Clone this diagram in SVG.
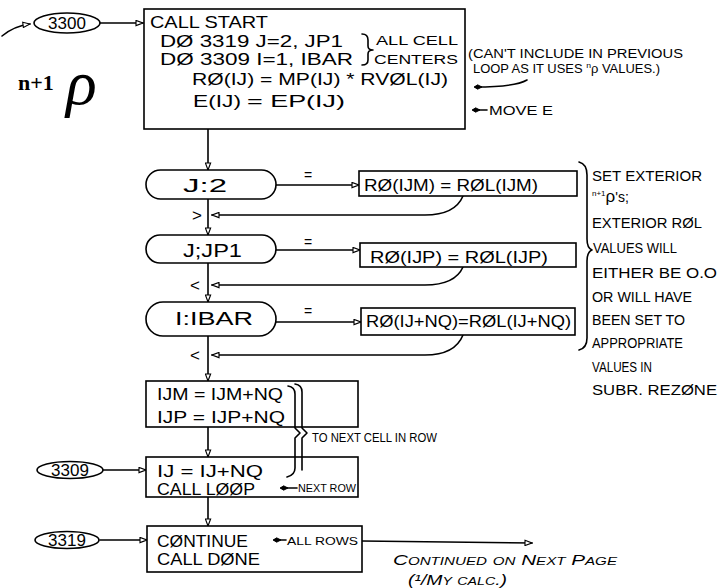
<svg xmlns="http://www.w3.org/2000/svg" width="721" height="588" viewBox="0 0 721 588">
<style>
  .ln { fill: none; stroke: #000; stroke-width: 1.6; stroke-linecap: round; stroke-linejoin: round; }
  .bx { fill: #fff; stroke: #000; stroke-width: 1.6; }
  .t { font-family: "Liberation Sans", Arial, sans-serif; font-size: 17px; fill: #000; }
  .a { font-family: "Liberation Sans", Arial, sans-serif; font-size: 16px; fill: #000; }
  .p { font-family: "Liberation Sans", Arial, sans-serif; font-size: 18px; fill: #000; }
  .s { font-family: "Liberation Sans", Arial, sans-serif; font-size: 12px; fill: #000; }
  .xs { font-family: "Liberation Sans", Arial, sans-serif; font-size: 10px; fill: #000; }
  .r { font-family: "Liberation Sans", Arial, sans-serif; font-size: 14px; fill: #000; }
  .c { text-anchor: middle; }
  .it { font-family: "Liberation Sans", Arial, sans-serif; font-style: italic; font-variant: small-caps; font-size: 15px; fill: #000; }
</style>
<defs>
  <marker id="ah" viewBox="0 0 10 8" refX="9" refY="4" markerWidth="9" markerHeight="7" markerUnits="userSpaceOnUse" orient="auto">
    <path d="M1,1 L9,4 L1,7 z" fill="#fff" stroke="#000" stroke-width="1.3"/>
  </marker>
  <marker id="dot" viewBox="0 0 10 8" refX="8" refY="4" markerWidth="9" markerHeight="7" markerUnits="userSpaceOnUse" orient="auto">
    <path d="M0,4 L5,1.5 L9,4 L5,6.5 z" fill="#000" stroke="#000" stroke-width="1"/>
  </marker>
</defs>

<g id="connectors">
  <path class="ln" d="M2,36 Q14,26 30,24" marker-end="url(#ah)"/>
  <path class="ln" d="M100,23 L143,23" marker-end="url(#ah)"/>
  <path class="ln" d="M208,129 L208,170" marker-end="url(#ah)"/>
  <path class="ln" d="M276,185 L359,185" marker-end="url(#ah)"/>
  <path class="ln" d="M463,196 Q455,215 425,215 L212,215" marker-end="url(#ah)"/>
  <path class="ln" d="M208,199 L208,235" marker-end="url(#ah)"/>
  <path class="ln" d="M276,250 L360,250" marker-end="url(#ah)"/>
  <path class="ln" d="M463,267 Q455,285 425,285 L212,285" marker-end="url(#ah)"/>
  <path class="ln" d="M208,263 L208,302" marker-end="url(#ah)"/>
  <path class="ln" d="M276,322 L361,322" marker-end="url(#ah)"/>
  <path class="ln" d="M463,335 Q455,355 425,355 L212,355" marker-end="url(#ah)"/>
  <path class="ln" d="M208,336 L208,381" marker-end="url(#ah)"/>
  <path class="ln" d="M208,427 L208,457" marker-end="url(#ah)"/>
  <path class="ln" d="M103,470 L146,470" marker-end="url(#ah)"/>
  <path class="ln" d="M208,497 L208,526" marker-end="url(#ah)"/>
  <path class="ln" d="M100,540 L147,540" marker-end="url(#ah)"/>
  <path class="ln" d="M362,541 L532,543" marker-end="url(#ah)"/>
  <text class="r" x="304" y="180">=</text>
  <text class="r" x="304" y="247">=</text>
  <text class="r" x="304" y="316">=</text>
  <text class="t" x="192" y="221">&gt;</text>
  <text class="t" x="190" y="291">&lt;</text>
  <text class="t" x="190" y="361">&lt;</text>
</g>

<g id="entry-3300">
  <ellipse class="bx" cx="67" cy="23" rx="33" ry="10"/>
  <text class="t c" x="67" y="29">3300</text>
</g>

<g id="rho-label">
  <text x="18" y="90" font-family="Liberation Serif, serif" font-size="22" font-weight="bold">n+1</text>
  <text x="66" y="104" font-family="Liberation Serif, serif" font-size="64" font-style="italic">ρ</text>
</g>

<g id="start-box">
  <rect class="bx" x="144" y="9" width="321" height="120"/>
  <text class="t" x="150" y="28" textLength="118" lengthAdjust="spacingAndGlyphs">CALL START</text>
  <text class="t" x="160" y="47" textLength="183" lengthAdjust="spacingAndGlyphs">DØ 3319 J=2, JP1</text>
  <text class="t" x="160" y="65" textLength="193" lengthAdjust="spacingAndGlyphs">DØ 3309 I=1, IBAR</text>
  <text class="t" x="192" y="85" textLength="256" lengthAdjust="spacingAndGlyphs">RØ(IJ) = MP(IJ) * RVØL(IJ)</text>
  <text class="t" x="193" y="107" textLength="48" lengthAdjust="spacingAndGlyphs">E(IJ)</text>
  <text class="t" x="247" y="107" textLength="98" lengthAdjust="spacingAndGlyphs">= EP(IJ)</text>
  <path class="ln" d="M362,34 Q368,34 368,40 L368,46 Q368,50 373,50 Q368,50 368,54 L368,60 Q368,65 362,65"/>
  <text class="s" x="376" y="45" textLength="82" lengthAdjust="spacingAndGlyphs">ALL CELL</text>
  <text class="s" x="374" y="64" textLength="84" lengthAdjust="spacingAndGlyphs">CENTERS</text>
</g>

<g id="note-previous">
  <text class="s" x="468" y="58" textLength="215" lengthAdjust="spacingAndGlyphs">(CAN'T INCLUDE IN PREVIOUS</text>
  <text class="s" x="473" y="73" textLength="187" lengthAdjust="spacingAndGlyphs">LOOP AS IT USES <tspan font-size="8" dy="-5">n</tspan><tspan dy="5">ρ VALUES.)</tspan></text>
  <path class="ln" d="M527,80 Q515,87 475,87" marker-end="url(#dot)"/>
  <path class="ln" d="M487,110 L473,110" marker-end="url(#dot)"/>
  <text class="s" x="489" y="115" textLength="64" lengthAdjust="spacingAndGlyphs">MOVE E</text>
</g>

<g id="dec-j2">
  <rect class="bx" x="146" y="170" width="130" height="29" rx="14.5"/>
  <text class="p" x="183" y="192" textLength="44" lengthAdjust="spacingAndGlyphs">J:2</text>
</g>
<g id="act-ijm">
  <rect class="bx" x="359" y="171" width="218" height="25"/>
  <text class="a" x="364" y="191" textLength="174" lengthAdjust="spacingAndGlyphs">RØ(IJM) = RØL(IJM)</text>
</g>

<g id="dec-jp1">
  <rect class="bx" x="146" y="235" width="130" height="28" rx="14"/>
  <text class="p" x="183" y="257" textLength="59" lengthAdjust="spacingAndGlyphs">J;JP1</text>
</g>
<g id="act-ijp">
  <rect class="bx" x="360" y="243" width="216" height="24"/>
  <text class="a" x="370" y="263" textLength="178" lengthAdjust="spacingAndGlyphs">RØ(IJP) = RØL(IJP)</text>
</g>

<g id="dec-ibar">
  <rect class="bx" x="146" y="302" width="130" height="34" rx="17"/>
  <text class="p" x="175" y="325" textLength="78" lengthAdjust="spacingAndGlyphs">I:IBAR</text>
</g>
<g id="act-ijnq">
  <rect class="bx" x="361" y="308" width="214" height="27"/>
  <text class="a" x="366" y="327" textLength="205" lengthAdjust="spacingAndGlyphs">RØ(IJ+NQ)=RØL(IJ+NQ)</text>
</g>

<g id="note-exterior">
  <path class="ln" d="M579,162 Q587,164 587,175 L587,239 Q587,248 592,250 Q587,252 587,261 L587,338 Q587,348 579,350"/>
  <text class="r" x="592" y="181" textLength="110" lengthAdjust="spacingAndGlyphs">SET EXTERIOR</text>
  <text class="r" x="592" y="202"><tspan font-size="8" dy="-6">n+1</tspan><tspan dy="6" font-size="17">ρ</tspan><tspan>'s;</tspan></text>
  <text class="r" x="592" y="228" textLength="110" lengthAdjust="spacingAndGlyphs">EXTERIOR RØL</text>
  <text class="r" x="593" y="253" textLength="84" lengthAdjust="spacingAndGlyphs">VALUES WILL</text>
  <text class="r" x="592" y="278" textLength="125" lengthAdjust="spacingAndGlyphs">EITHER BE O.O</text>
  <text class="r" x="592" y="302" textLength="100" lengthAdjust="spacingAndGlyphs">OR WILL HAVE</text>
  <text class="r" x="592" y="325" textLength="93" lengthAdjust="spacingAndGlyphs">BEEN SET TO</text>
  <text class="r" x="592" y="348" textLength="91" lengthAdjust="spacingAndGlyphs">APPROPRIATE</text>
  <text class="r" x="592" y="372" textLength="60" lengthAdjust="spacingAndGlyphs">VALUES IN</text>
  <text class="r" x="592" y="395" textLength="125" lengthAdjust="spacingAndGlyphs">SUBR. REZØNE</text>
</g>

<g id="box-incr">
  <rect class="bx" x="146" y="381" width="212" height="46"/>
  <text class="t" x="157" y="400" textLength="126" lengthAdjust="spacingAndGlyphs">IJM = IJM+NQ</text>
  <text class="t" x="157" y="423" textLength="128" lengthAdjust="spacingAndGlyphs">IJP = IJP+NQ</text>
</g>

<g id="box-loop">
  <rect class="bx" x="146" y="457" width="212" height="40"/>
  <text class="t" x="157" y="477" textLength="106" lengthAdjust="spacingAndGlyphs">IJ = IJ+NQ</text>
  <text class="t" x="157" y="495" textLength="98" lengthAdjust="spacingAndGlyphs">CALL LØØP</text>
  <path class="ln" d="M297,488 L281,488" marker-end="url(#dot)"/>
  <text class="xs" x="298" y="492" textLength="58" lengthAdjust="spacingAndGlyphs">NEXT ROW</text>
</g>

<g id="note-next-cell">
  <path class="ln" d="M288,386 Q295,387 295,394 L295,428 L300,433 L295,438 L295,468 Q295,475 287,477"/>
  <path class="ln" d="M295,384 Q302,385 302,392 L302,428 L307,433 L302,438 L302,470"/>
  <text class="s" x="312" y="442" textLength="125" lengthAdjust="spacingAndGlyphs">TO NEXT CELL IN ROW</text>
</g>

<g id="entry-3309">
  <ellipse class="bx" cx="70" cy="470" rx="33" ry="8.5"/>
  <text class="t c" x="70" y="476">3309</text>
</g>

<g id="entry-3319">
  <ellipse class="bx" cx="67" cy="540" rx="32" ry="8.5"/>
  <text class="t c" x="67" y="546">3319</text>
</g>

<g id="box-done">
  <rect class="bx" x="147" y="526" width="215" height="46"/>
  <text class="t" x="157" y="547" textLength="91" lengthAdjust="spacingAndGlyphs">CØNTINUE</text>
  <text class="t" x="157" y="565" textLength="103" lengthAdjust="spacingAndGlyphs">CALL DØNE</text>
  <path class="ln" d="M286,540 L274,540" marker-end="url(#dot)"/>
  <text class="xs" x="287" y="545" font-size="11" textLength="71" lengthAdjust="spacingAndGlyphs">ALL ROWS</text>
</g>

<g id="note-continued">
  <text class="it" x="393" y="565" textLength="224" lengthAdjust="spacingAndGlyphs">Continued on Next Page</text>
  <text class="it" x="408" y="585" textLength="99" lengthAdjust="spacingAndGlyphs">(¹/My calc.)</text>
</g>
</svg>
